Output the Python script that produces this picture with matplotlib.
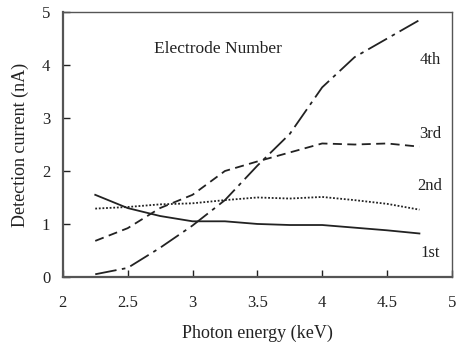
import matplotlib
matplotlib.use("Agg")
import matplotlib.pyplot as plt

# photon energy (keV)
energy = [2.25, 2.5, 2.75, 3.0, 3.25, 3.5, 3.75, 4.0, 4.25, 4.5, 4.75]

# detection current (nA) for each electrode
first = [1.55, 1.30, 1.15, 1.05, 1.05, 1.00, 0.98, 0.98, 0.93, 0.88, 0.82]
second = [1.29, 1.32, 1.37, 1.39, 1.45, 1.50, 1.48, 1.51, 1.45, 1.38, 1.27]
third = [0.68, 0.92, 1.30, 1.55, 2.00, 2.18, 2.35, 2.52, 2.50, 2.52, 2.46]
fourth = [0.05, 0.17, 0.55, 0.97, 1.45, 2.10, 2.70, 3.58, 4.15, 4.50, 4.85]

series_labels = ["1st", "2nd", "3rd", "4th"]
label_y = [0.45, 1.72, 2.7, 4.1]

plt.rcParams['font.family'] = ['Liberation Serif', 'DejaVu Serif']

fig = plt.figure(figsize=(4.62, 3.47), dpi=100)
ax = fig.add_axes([0.136, 0.202, 0.842, 0.763])

c = '#222222'
ax.plot(energy, first, color=c, lw=1.3, ls='-')
ax.plot(energy, second, color=c, lw=1.3, ls=(0, (1, 1)))
ax.plot(energy, third, color=c, lw=1.3, ls=(0, (5, 3)))
ax.plot(energy, fourth, color=c, lw=1.3, ls=(0, (12, 3, 2, 3)))

for lab, yy in zip(series_labels, label_y):
    ax.text(4.83, yy, lab, fontsize=12, ha='center', va='center', color=c)

ax.text(3.2, 4.3, "Electrode Number", fontsize=12.5, ha='center', va='center', color=c)

ax.set_xlim(2, 5)
ax.set_ylim(0, 5)
ax.set_xticks([2, 2.5, 3, 3.5, 4, 4.5, 5])
ax.set_xticklabels(["2", "2.5", "3", "3.5", "4", "4.5", "5"])
ax.set_yticks([0, 1, 2, 3, 4, 5])
ax.tick_params(direction='in', length=5, width=1, labelsize=12, colors=c)
ax.tick_params(axis='x', pad=13)
ax.tick_params(axis='y', pad=9)
for s in ax.spines.values():
    s.set_color('#555555')
    s.set_linewidth(1)
ax.spines['left'].set_linewidth(1.6)
ax.spines['bottom'].set_linewidth(1.6)

ax.set_xlabel("Photon energy (keV)", fontsize=13, color=c, labelpad=10)
ax.set_ylabel("Detection current (nA)", fontsize=13, color=c, labelpad=9)

fig.savefig("out.png", dpi=100)
